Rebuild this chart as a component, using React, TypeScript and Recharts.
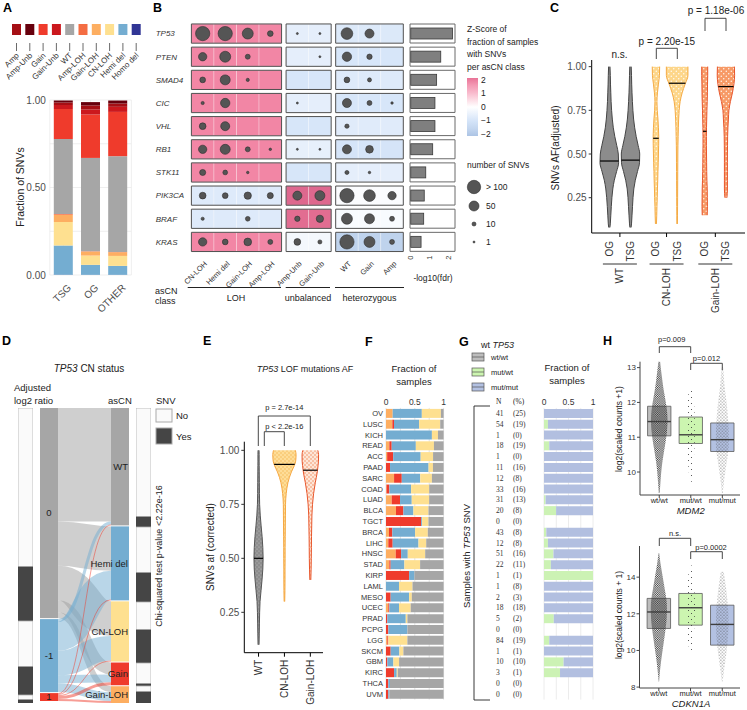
import React from "react";
import {
  Area,
  Bar,
  BarChart,
  CartesianGrid,
  ComposedChart,
  ReferenceArea,
  ReferenceLine,
  Sankey,
  Scatter,
  ScatterChart,
  XAxis,
  YAxis,
  ZAxis,
} from "recharts";

const W = 747;
const H = 710;
const SANS = '"Liberation Sans", Arial, Helvetica, sans-serif';
const SERIF = '"Liberation Serif", "DejaVu Serif", serif';

const CN = {
  amp: "#a50f15",
  ampUnb: "#67000d",
  gain: "#ef3b2c",
  gainUnb: "#cb181d",
  wt: "#a6a6a6",
  ampLoh: "#f46d43",
  gainLoh: "#fdae61",
  cnLoh: "#fee090",
  hemiDel: "#74add1",
  homoDel: "#313695",
};

// ---------- A: fraction of SNVs per gene class ----------
const aGroups = ["TSG", "OG", "OTHER"];
const aHomoDel = [0.002, 0.001, 0.001];
const aHemiDel = [0.166, 0.057, 0.051];
const aCnLoh = [0.135, 0.053, 0.057];
const aGainLoh = [0.042, 0.023, 0.021];
const aAmpLoh = [0.003, 0.002, 0.002];
const aWt = [0.429, 0.533, 0.547];
const aGain = [0.171, 0.248, 0.253];
const aGainUnb = [0.023, 0.029, 0.029];
const aAmp = [0.015, 0.023, 0.019];
const aAmpUnb = [0.011, 0.019, 0.017];
const aLegend = ["Amp", "Amp-Unb", "Gain", "Gain-Unb", "WT", "Amp-LOH", "Gain-LOH", "CN-LOH", "Hemi del", "Homo del"];
const aLegendCol = [CN.amp, CN.ampUnb, CN.gain, CN.gainUnb, CN.wt, CN.ampLoh, CN.gainLoh, CN.cnLoh, CN.hemiDel, CN.homoDel];

// ---------- B: genes x asCN class ----------
const bGenes = ["TP53", "PTEN", "SMAD4", "CIC", "VHL", "RB1", "STK11", "PIK3CA", "BRAF", "KRAS"];
const bClasses = ["CN-LOH", "Hemi del", "Gain-LOH", "Amp-LOH", "Amp-Unb", "Gain-Unb", "WT", "Gain", "Amp"];
const bSnvCounts = [
  [100, 100, 59, 16, 2, 2, 67, 40, 0],
  [34, 59, 12, 0, 0, 2, 43, 14, 0],
  [16, 49, 5, 0, 0, 0, 16, 8, 0],
  [5, 43, 0, 0, 2, 0, 40, 12, 3],
  [22, 40, 0, 0, 0, 0, 9, 0, 0],
  [34, 49, 12, 3, 2, 2, 40, 29, 0],
  [18, 11, 3, 0, 0, 0, 8, 3, 0],
  [22, 16, 26, 18, 40, 49, 100, 67, 34],
  [5, 0, 11, 0, 14, 26, 59, 49, 12],
  [34, 16, 29, 12, 22, 8, 100, 59, 12],
];
const zLoh = [1.8, 1.8, 1.8, 1.8, 1.8, 1.8, 1.8, -0.75, -0.75, 1.8];
const zUnb = [-0.6, -0.6, -0.9, -0.6, -0.9, -0.55, -0.9, 2.4, 2.3, -0.25];
const zHet = [-0.8, -0.9, -0.75, -0.9, -0.7, -0.95, -0.6, -0.1, -0.15, -1.6];
const bFdr = [2.23, 1.6, 1.38, 1.29, 1.29, 1.17, 0.8, 0.72, 0.69, 0.55];

// ---------- C: SNV AF violins ----------
const cLevels = [0.08, 0.1, 0.15, 0.2, 0.25, 0.3, 0.35, 0.4, 0.45, 0.5, 0.55, 0.6, 0.65, 0.7, 0.75, 0.8, 0.85, 0.9, 0.95, 1.0];
const cWtOg = [0.6, 1.0, 1.5, 2.0, 2.6, 3.5, 5.0, 7.3, 9.3, 9.0, 7.4, 5.5, 4.0, 3.0, 2.3, 1.8, 1.5, 1.2, 1.0, 0.7];
const cWtTsg = [0.6, 1.0, 1.5, 2.0, 2.5, 3.3, 4.8, 7.0, 9.0, 9.2, 7.6, 5.7, 4.2, 3.1, 2.4, 1.9, 1.5, 1.2, 1.0, 0.7];
const cCnOg = [null, 0.5, 0.8, 1.0, 1.3, 1.5, 1.8, 2.0, 2.3, 2.5, 2.7, 2.8, 2.5, 2.0, 1.3, 1.0, 1.5, 2.5, 3.5, 3.7];
const cCnTsg = [null, 0.3, 0.35, 0.4, 0.45, 0.5, 0.55, 0.6, 0.65, 0.7, 0.8, 1.0, 1.2, 1.5, 2.0, 3.0, 5.0, 8.0, 10.8, 10.8];
const cGlOg = [null, null, 2.5, 2.7, 2.6, 2.5, 2.2, 2.0, 1.9, 1.8, 1.7, 1.7, 1.8, 2.0, 2.2, 2.5, 2.7, 2.8, 3.0, 3.0];
const cGlTsg = [null, null, null, null, 1.0, 1.5, 1.5, 1.5, 1.5, 1.5, 1.6, 1.7, 2.0, 2.5, 3.0, 4.5, 6.5, 8.0, 8.7, 8.5];
const cMedians = [0.46, 0.465, 0.59, 0.905, 0.63, 0.886];
const cLabels = ["OG", "TSG", "OG", "TSG", "OG", "TSG"];
const cGroupNames = ["WT", "CN-LOH", "Gain-LOH"];

// ---------- D: TP53 CN status alluvial ----------
const dNodes = ["0", "-1", "1", "WT", "Hemi del", "CN-LOH", "Gain", "Gain-LOH"];
const dFrom0 = [115, 45, 35, 12, 6];
const dFromMinus1 = [3, 29, 25, 8, 9];
const dFrom1 = [1, 1, 1, 3, 2];
const dSnvLeft = [159, 54, 46, 28, 5, 3];
const dSnvRight = [109, 10, 46, 29, 28, 33, 21, 2, 6, 11];

// ---------- E: TP53 LOF AF ----------
const eLevels = [0.1, 0.15, 0.2, 0.25, 0.3, 0.35, 0.4, 0.45, 0.5, 0.55, 0.6, 0.65, 0.7, 0.75, 0.8, 0.85, 0.9, 0.93, 0.95, 0.98, 1.0];
const eWt = [0.5, 0.7, 0.9, 1.1, 1.5, 2.5, 3.5, 4.3, 4.6, 4.3, 3.6, 2.6, 1.7, 1.1, 0.9, 0.8, 0.7, 0.65, 0.6, 0.6, 0.5];
const eCn = [null, null, null, null, 0.3, 0.5, 0.6, 0.6, 0.7, 0.7, 0.8, 0.9, 1.0, 1.1, 1.8, 3.5, 7.0, 10.0, 11.3, 11.7, 11.0];
const eGl = [null, null, null, null, null, null, 0.5, 0.8, 1.0, 1.1, 1.2, 1.4, 1.6, 2.2, 3.3, 5.0, 7.0, 7.8, 8.2, 8.3, 7.5];
const eMedians = [0.5, 0.935, 0.908];
const eLabels = ["WT", "CN-LOH", "Gain-LOH"];

// ---------- F / G: per cancer type ----------
const fTypes = ["OV", "LUSC", "KICH", "READ", "ACC", "PAAD", "SARC", "COAD", "LUAD", "BLCA", "TGCT", "BRCA", "LIHC", "HNSC", "STAD", "KIRP", "LAML", "MESO", "UCEC", "PRAD", "PCPG", "LGG", "SKCM", "GBM", "KIRC", "THCA", "UVM"];
const fGainLoh = [0.116, 0.11, 0, 0.058, 0.02, 0, 0.14, 0.01, 0.099, 0.174, 0, 0.052, 0.04, 0.169, 0.058, 0, 0, 0, 0.04, 0, 0, 0.023, 0, 0, 0, 0, 0];
const fGain = [0, 0.029, 0, 0.041, 0.105, 0.07, 0.134, 0.048, 0.145, 0.128, 0.61, 0.058, 0.076, 0.093, 0.023, 0.401, 0, 0.081, 0.017, 0.023, 0.04, 0.017, 0.081, 0.023, 0.14, 0.04, 0.04];
const fHemiDel = [0.506, 0.436, 0.797, 0.419, 0.477, 0.669, 0.32, 0.378, 0.203, 0.174, 0.017, 0.395, 0.448, 0.116, 0.238, 0.093, 0.227, 0.32, 0.169, 0.32, 0.331, 0, 0.151, 0.105, 0.047, 0.029, 0.017];
const fCnLoh = [0.331, 0.366, 0.105, 0.314, 0.215, 0.076, 0.203, 0.314, 0.302, 0.262, 0.11, 0.221, 0.134, 0.302, 0.273, 0, 0.233, 0.047, 0.203, 0.029, 0, 0.331, 0.07, 0.099, 0.017, 0, 0];
const fWt = [0.047, 0.059, 0.098, 0.168, 0.183, 0.185, 0.203, 0.25, 0.251, 0.262, 0.263, 0.274, 0.302, 0.32, 0.408, 0.506, 0.54, 0.552, 0.571, 0.628, 0.629, 0.629, 0.698, 0.773, 0.796, 0.931, 0.943];
const gN = [41, 54, 1, 18, 1, 11, 12, 33, 31, 20, 0, 43, 12, 51, 22, 1, 1, 2, 18, 5, 0, 84, 1, 10, 3, 0, 0];
const gPct = [25, 19, 0, 19, 0, 16, 8, 16, 13, 8, 0, 8, 8, 16, 11, 1, 8, 3, 18, 2, 0, 19, 1, 10, 1, 0, 0];
const gMutWt = [0, 0.08, 0, 0.107, 0, 0, 0, 0, 0.033, 0.247, null, 0.047, 0.08, 0.193, 0.14, 1, 0, 0, 0, 0.2, null, 0.107, 0, 0.4, 0.327, null, null];
const gMutMut = [1, 0.92, 1, 0.893, 1, 1, 1, 1, 0.967, 0.753, null, 0.953, 0.92, 0.807, 0.86, 0, 1, 1, 1, 0.8, null, 0.893, 1, 0.6, 0.673, null, null];

// ---------- H: expression boxplots ----------
const hGroups = ["wt/wt", "mut/wt", "mut/mut"];
const hCol = ["#bdbdbd", "#ccf5b0", "#b3c1e2"];
const mdmLevels = [9.4, 9.7, 10.0, 10.3, 10.6, 10.9, 11.2, 11.5, 11.8, 12.1, 12.4, 12.7, 13.0, 13.3];
const mdmWtWt = [0.5, 1.2, 2.0, 3.2, 4.8, 6.5, 7.8, 8.3, 7.6, 6.0, 4.2, 2.8, 1.5, 0.5];
const mdmMutWt = [null, 0.8, 2.0, 2.8, 3.5, 4.0, 4.0, 4.0, 3.6, 3.0, 1.5, null, null, null];
const mdmMutMut = [0.5, 1.5, 3.0, 4.5, 6.0, 6.5, 6.3, 5.8, 5.0, 3.8, 2.5, 1.6, 0.8, null];
const mdmQ1 = [11.04, 10.82, 10.59];
const mdmMed = [11.45, 11.07, 10.93];
const mdmQ3 = [11.89, 11.58, 11.41];
const cdkLevels = [8.3, 8.8, 9.3, 9.8, 10.3, 10.8, 11.3, 11.8, 12.3, 12.8, 13.3, 13.8, 14.3, 14.8, 15.3];
const cdkWtWt = [0.3, 1.0, 2.0, 3.2, 4.5, 5.8, 7.0, 7.8, 8.0, 7.5, 6.0, 4.5, 3.0, 1.5, 0.4];
const cdkMutWt = [null, null, null, 0.8, 2.0, 3.0, 3.8, 4.2, 4.5, 4.3, 3.8, 2.8, 1.8, 0.5, null];
const cdkMutMut = [0.5, 1.5, 2.8, 4.0, 5.0, 5.8, 6.2, 6.2, 5.8, 5.0, 4.0, 2.8, 1.5, null, null];
const cdkQ1 = [11.2, 11.38, 10.29];
const cdkMed = [12.1, 12.33, 11.42];
const cdkQ3 = [12.84, 13.11, 12.47];

// ---------- helpers ----------
type Plot = { x0: number; x1: number; y0: number; y1: number };
const layer: React.CSSProperties = { position: "absolute", left: 0, top: 0 };
const marginOf = (p: Plot, yw: number, xh: number, top = false) => ({
  left: p.x0 - yw,
  right: W - p.x1,
  top: top ? p.y0 - xh : p.y0,
  bottom: top ? H - p.y1 : H - p.y1 - xh,
});

type Vio = { key: string; pos: number; dens: (number | null)[] };
// rows for range areas; a missing level becomes [NaN, null] so both edges break cleanly
const violinRows = (levels: number[], items: Vio[], pxPerUnit: number) =>
  levels.map((v, i) => {
    const r: any = { v };
    items.forEach((it) => {
      const w = it.dens[i];
      r[it.key] = w == null ? [NaN, null] : [it.pos - w / pxPerUnit, it.pos + w / pxPerUnit];
    });
    return r;
  });
const widthAt = (levels: number[], dens: (number | null)[], v: number) => {
  for (let i = 0; i < levels.length - 1; i++) {
    if (v >= levels[i] && v <= levels[i + 1]) {
      const a = dens[i] ?? 0;
      const b = dens[i + 1] ?? 0;
      return a + ((b - a) * (v - levels[i])) / (levels[i + 1] - levels[i]);
    }
  }
  return 0;
};

const hex = (h: string) => [1, 3, 5].map((i) => parseInt(h.slice(i, i + 2), 16));
const mix = (a: string, b: string, t: number) => {
  const x = hex(a);
  const y = hex(b);
  return `rgb(${x.map((c, i) => Math.round(c + (y[i] - c) * t)).join(",")})`;
};
const zStops: [number, string][] = [
  [-2.5, "#9fb9de"],
  [-2, "#b2c8e6"],
  [-1, "#d3e3f8"],
  [0, "#ffffff"],
  [1, "#f8b8cb"],
  [2, "#f07a9c"],
  [2.5, "#d9648a"],
];
const zColor = (z: number) => {
  for (let i = 0; i < zStops.length - 1; i++) {
    const [z0, c0] = zStops[i];
    const [z1, c1] = zStops[i + 1];
    if (z >= z0 && z <= z1) return mix(c0, c1, (z - z0) / (z1 - z0));
  }
  return z < 0 ? zStops[0][1] : zStops[zStops.length - 1][1];
};

const rotText = (x: number, y: number, s: string, fs: number, angle = -90, anchor = "end", fill = "#333") => (
  <text x={x} y={y} transform={`rotate(${angle} ${x} ${y})`} textAnchor={anchor} dy="0.35em" fontSize={fs} fill={fill}>
    {s}
  </text>
);

function Patterns() {
  const dots = (id: string, bg: string | null, dot: string, step: number, r: number) => (
    <pattern id={id} key={id} width={step} height={step} patternUnits="userSpaceOnUse">
      {bg && <rect width={step} height={step} fill={bg} />}
      <circle cx={step * 0.25} cy={step * 0.25} r={r} fill={dot} />
      <circle cx={step * 0.75} cy={step * 0.75} r={r} fill={dot} />
    </pattern>
  );
  return (
    <svg width={0} height={0} style={{ position: "absolute" }}>
      <defs>
        {dots("cCn", "#fdd68a", "#ffffff", 5, 0.7)}
        {dots("cGl", "#f79a66", "#ffffff", 5, 0.7)}
        {dots("eWt", "#8d8d8d", "#c4c4c4", 4, 0.6)}
        {dots("eCn", "#fedd98", "#f5b54d", 4, 0.7)}
        {dots("eGl", "#fde6d8", "#f07c48", 4, 0.7)}
        {dots("hDense", null, "#333333", 1.8, 0.55)}
        {dots("hMid", null, "#3a3a3a", 3.2, 0.5)}
        {dots("hSparse", null, "#3a3a3a", 6, 0.55)}
        <linearGradient id="zBar" x1="0" y1="0" x2="0" y2="1">
          {[2.15, 1.5, 1, 0.5, 0, -0.5, -1, -1.5, -2.15].map((z, i) => (
            <stop key={i} offset={`${(i / 8) * 100}%`} stopColor={zColor(z)} />
          ))}
        </linearGradient>
      </defs>
    </svg>
  );
}

// ---------- panels ----------
const pA: Plot = { x0: 49.8, x1: 131.4, y0: 100, y1: 275 };
function PanelA() {
  const stack = [
    { key: "homoDel", v: aHomoDel, c: CN.homoDel },
    { key: "hemiDel", v: aHemiDel, c: CN.hemiDel },
    { key: "cnLoh", v: aCnLoh, c: CN.cnLoh },
    { key: "gainLoh", v: aGainLoh, c: CN.gainLoh },
    { key: "ampLoh", v: aAmpLoh, c: CN.ampLoh },
    { key: "wt", v: aWt, c: CN.wt },
    { key: "gain", v: aGain, c: CN.gain },
    { key: "gainUnb", v: aGainUnb, c: CN.gainUnb },
    { key: "amp", v: aAmp, c: CN.amp },
    { key: "ampUnb", v: aAmpUnb, c: CN.ampUnb },
  ];
  const data = aGroups.map((g, i) => {
    const row: any = { g };
    stack.forEach((s) => (row[s.key] = s.v[i]));
    return row;
  });
  return (
    <div style={layer}>
      <BarChart width={W} height={H} data={data} margin={marginOf(pA, 34, 30)} barSize={19}>
        <CartesianGrid stroke="#ebebeb" strokeWidth={0.8} />
        <XAxis
          dataKey="g"
          height={30}
          axisLine={false}
          tickLine={false}
          tickSize={0}
          tickMargin={0}
          interval={0}
          tick={(p: any) => rotText(p.x + 6, p.y + 11, p.payload.value, 10, -45, "end", "#4d4d4d")}
        />
        <YAxis
          width={34}
          domain={[0, 1]}
          ticks={[0, 0.25, 0.5, 0.75, 1]}
          tickFormatter={(v: number) => (v === 0.25 || v === 0.75 ? "" : v.toFixed(2))}
          axisLine={false}
          tickLine={false}
          tickSize={0}
          tickMargin={4}
          tick={{ fontSize: 10, fill: "#4d4d4d" }}
        />
        {stack.map((s) => (
          <Bar key={s.key} dataKey={s.key} stackId="a" fill={s.c} isAnimationActive={false} />
        ))}
      </BarChart>
    </div>
  );
}

const colPos = [0, 1, 2, 3, 4.2, 5.2, 6.4, 7.4, 8.4];
const bBlocks = [
  { cols: [0, 1, 2, 3], z: zLoh },
  { cols: [4, 5], z: zUnb },
  { cols: [6, 7, 8], z: zHet },
];
const pB: Plot = { x0: 191.4, x1: 403.3, y0: 22, y1: 253.5 };
const pBb: Plot = { x0: 410, x1: 455, y0: 22, y1: 253.5 };
function PanelB() {
  const pts: any[] = [];
  bSnvCounts.forEach((row, i) =>
    row.forEach((n, j) => {
      if (n > 0) pts.push({ x: colPos[j], y: i, n });
    })
  );
  const hh = 0.415;
  return (
    <>
      <div style={layer}>
        <ScatterChart width={W} height={H} margin={marginOf(pB, 36, 40)}>
          <XAxis
            type="number"
            dataKey="x"
            domain={[-0.5, 8.9]}
            allowDataOverflow
            ticks={colPos}
            interval={0}
            height={40}
            axisLine={false}
            tickLine={false}
            tickSize={0}
            tickMargin={0}
            tick={(p: any) => rotText(p.x + 3, p.y + 9, bClasses[colPos.indexOf(p.payload.value)], 7.5, -45)}
          />
          <YAxis
            type="number"
            dataKey="y"
            domain={[-0.5, 9.5]}
            reversed
            allowDataOverflow
            ticks={bGenes.map((_, i) => i)}
            interval={0}
            width={36}
            axisLine={false}
            tickLine={false}
            tick={(p: any) => (
              <text x={155.7} y={p.y} dy="0.35em" fontSize={8} fontStyle="italic" fill="#333">
                {bGenes[p.payload.value]}
              </text>
            )}
          />
          <ZAxis type="number" dataKey="n" domain={[1, 100]} range={[1.6, 160]} />
          {bGenes.flatMap((_, i) =>
            bBlocks.flatMap((b) =>
              b.cols.map((c) => (
                <ReferenceArea
                  key={`t${i}-${c}`}
                  x1={colPos[c] - 0.5}
                  x2={colPos[c] + 0.5}
                  y1={i - hh}
                  y2={i + hh}
                  fill={zColor(b.z[i])}
                  fillOpacity={1}
                  stroke="#ffffff"
                  strokeOpacity={0.35}
                  strokeWidth={0.8}
                  ifOverflow="visible"
                />
              ))
            )
          )}
          {bGenes.flatMap((_, i) =>
            bBlocks.map((b, k) => (
              <ReferenceArea
                key={`o${i}-${k}`}
                x1={colPos[b.cols[0]] - 0.5}
                x2={colPos[b.cols[b.cols.length - 1]] + 0.5}
                y1={i - hh}
                y2={i + hh}
                fill="none"
                stroke="#505050"
                strokeWidth={1}
                ifOverflow="visible"
              />
            ))
          )}
          <Scatter data={pts} fill="#555555" stroke="#2d2d2d" strokeWidth={0.6} isAnimationActive={false} />
        </ScatterChart>
      </div>
      <div style={layer}>
        <BarChart layout="vertical" width={W} height={H} data={bGenes.map((g, i) => ({ g, v: bFdr[i] }))} margin={marginOf(pBb, 0, 30)}>
          <XAxis
            type="number"
            domain={[-0.04, 2.36]}
            allowDataOverflow
            ticks={[0, 1, 2]}
            height={30}
            axisLine={false}
            tickLine={false}
            tickSize={0}
            tickMargin={0}
            tick={(p: any) => rotText(p.x, p.y + 2, String(p.payload.value), 7.5)}
          />
          <YAxis type="category" dataKey="g" hide />
          <Bar
            dataKey="v"
            barSize={19}
            background={{ fill: "#ffffff", stroke: "#6b6b6b", strokeWidth: 1 }}
            shape={(p: any) => <rect x={p.x} y={p.y + 4} width={p.width} height={p.height - 8} fill="#7f7f7f" stroke="#3a3a3a" strokeWidth={0.8} />}
            isAnimationActive={false}
          />
        </BarChart>
      </div>
    </>
  );
}

const cPos = [1, 2, 3.2, 4.2, 5.5, 6.5];
const cCenters = [1.5, 3.7, 6.0];
const pC: Plot = { x0: 591.7, x1: 745, y0: 60, y1: 233 };
function PanelC() {
  const items: Vio[] = [
    { key: "wtOg", pos: cPos[0], dens: cWtOg },
    { key: "wtTsg", pos: cPos[1], dens: cWtTsg },
    { key: "cnOg", pos: cPos[2], dens: cCnOg },
    { key: "cnTsg", pos: cPos[3], dens: cCnTsg },
    { key: "glOg", pos: cPos[4], dens: cGlOg },
    { key: "glTsg", pos: cPos[5], dens: cGlTsg },
  ];
  const fills = ["#8c8c8c", "#8c8c8c", "url(#cCn)", "url(#cCn)", "url(#cGl)", "url(#cGl)"];
  const strokes = ["#454545", "#454545", "#f5ab45", "#f5ab45", "#e8552b", "#e8552b"];
  const px = 21.2;
  const rows = violinRows(cLevels, items, px);
  return (
    <div style={layer}>
      <ComposedChart layout="vertical" width={W} height={H} data={rows} margin={marginOf(pC, 40, 60)}>
        <XAxis
          type="number"
          domain={[0.17, 7.4]}
          allowDataOverflow
          ticks={[...cPos, ...cCenters]}
          interval={0}
          height={60}
          axisLine={{ stroke: "#000" }}
          tickLine={false}
          tickSize={0}
          tickMargin={0}
          tick={(p: any) => {
            const v = p.payload.value;
            const gi = cCenters.indexOf(v);
            if (gi >= 0)
              return (
                <g>
                  <line x1={p.x} x2={p.x} y1={p.y} y2={p.y + 4} stroke="#000" />
                  <line x1={p.x - 17} x2={p.x + 17} y1={p.y + 31} y2={p.y + 31} stroke="#000" strokeWidth={0.8} />
                  {rotText(p.x, p.y + 35, cGroupNames[gi], 10)}
                </g>
              );
            return rotText(p.x, p.y + 8, cLabels[cPos.indexOf(v)], 10);
          }}
        />
        <YAxis
          type="number"
          dataKey="v"
          reversed
          domain={[0.048, 1.038]}
          allowDataOverflow
          ticks={[0.25, 0.5, 0.75, 1]}
          tickFormatter={(v: number) => v.toFixed(2)}
          width={40}
          tickSize={3}
          tickMargin={2}
          axisLine={{ stroke: "#000" }}
          tickLine={{ stroke: "#333" }}
          tick={{ fontSize: 10, fill: "#4d4d4d" }}
        />
        {items.map((it, i) => (
          <Area
            key={it.key}
            dataKey={it.key}
            type="monotone"
            fill={fills[i]}
            fillOpacity={1}
            stroke={strokes[i]}
            strokeWidth={1}
            dot={false}
            activeDot={false}
            isAnimationActive={false}
          />
        ))}
        {items.map((it, i) => {
          const w = widthAt(cLevels, it.dens, cMedians[i]) / px;
          return (
            <ReferenceLine
              key={`m${i}`}
              segment={[
                { x: it.pos - w, y: cMedians[i] },
                { x: it.pos + w, y: cMedians[i] },
              ]}
              stroke="#000"
              strokeWidth={1.2}
            />
          );
        })}
      </ComposedChart>
    </div>
  );
}

const dNodeColor: Record<string, string> = {
  "0": CN.wt,
  "-1": CN.hemiDel,
  "1": CN.gain,
  WT: CN.wt,
  "Hemi del": CN.hemiDel,
  "CN-LOH": CN.cnLoh,
  Gain: CN.gain,
  "Gain-LOH": CN.gainLoh,
};
const dLinkColor: Record<string, string> = { "0": "#a0a0a0", "-1": "#74add1", "1": "#ef3b2c" };
function DNode(p: any) {
  const name = p.payload.name;
  const left = p.index < 3;
  return (
    <g>
      <rect x={p.x} y={p.y} width={p.width} height={p.height} fill={dNodeColor[name]} />
      <text
        x={left ? p.x + p.width / 2 : p.x + p.width - 1}
        y={p.y + p.height / 2}
        dy="0.35em"
        textAnchor={left ? "middle" : "end"}
        fontSize={9.5}
        fill="#222"
      >
        {name}
      </text>
    </g>
  );
}
function DLink(p: any) {
  const c = dLinkColor[p.payload.source.name];
  return (
    <path
      d={`M${p.sourceX},${p.sourceY}C${p.sourceControlX},${p.sourceY} ${p.targetControlX},${p.targetY} ${p.targetX},${p.targetY}`}
      fill="none"
      stroke={c}
      strokeWidth={p.linkWidth}
      strokeOpacity={0.5}
    />
  );
}
function SnvBar({ left, values }: { left: number; values: number[] }) {
  const row: any = { c: "x" };
  values.forEach((v, i) => (row["s" + i] = v));
  const total = values.reduce((a, b) => a + b, 0);
  return (
    <div style={{ position: "absolute", left, top: 408 }}>
      <BarChart width={15} height={295} data={[row]} margin={{ top: 0, right: 0, bottom: 0, left: 0 }} barCategoryGap={0}>
        <XAxis dataKey="c" hide />
        <YAxis hide reversed domain={[0, total]} />
        {values.map((_, i) => (
          <Bar
            key={i}
            dataKey={"s" + i}
            stackId="s"
            fill={i % 2 ? "#454545" : "#fafafa"}
            stroke={i % 2 ? "#454545" : "#b0b0b0"}
            strokeWidth={0.8}
            isAnimationActive={false}
          />
        ))}
      </BarChart>
    </div>
  );
}
function PanelD() {
  const links: any[] = [];
  [dFrom0, dFromMinus1, dFrom1].forEach((arr, s) => arr.forEach((v, t) => links.push({ source: s, target: 3 + t, value: v })));
  return (
    <>
      <SnvBar left={18} values={dSnvLeft} />
      <div style={{ position: "absolute", left: 40, top: 408 }}>
        <Sankey
          width={89}
          height={295}
          data={{ nodes: dNodes.map((name) => ({ name })), links }}
          nodeWidth={18}
          nodePadding={1}
          iterations={0}
          linkCurvature={0.5}
          margin={{ top: 0, right: 0, bottom: 0, left: 0 }}
          node={DNode}
          link={DLink}
        />
      </div>
      <SnvBar left={136} values={dSnvRight} />
    </>
  );
}

const ePos = [1, 2, 3];
const pE: Plot = { x0: 244.3, x1: 323, y0: 441.7, y1: 652.7 };
function PanelE() {
  const items: Vio[] = [
    { key: "wt", pos: 1, dens: eWt },
    { key: "cn", pos: 2, dens: eCn },
    { key: "gl", pos: 3, dens: eGl },
  ];
  const fills = ["url(#eWt)", "url(#eCn)", "url(#eGl)"];
  const strokes = ["#555555", "#f5a742", "#e8552b"];
  const px = 26;
  const rows = violinRows(eLevels, items, px);
  return (
    <div style={layer}>
      <ComposedChart layout="vertical" width={W} height={H} data={rows} margin={marginOf(pE, 40, 50)}>
        <XAxis
          type="number"
          domain={[0.45, 3.49]}
          allowDataOverflow
          ticks={ePos}
          interval={0}
          height={50}
          axisLine={{ stroke: "#000" }}
          tickLine={false}
          tickSize={0}
          tickMargin={0}
          tick={(p: any) => (
            <g>
              <line x1={p.x} x2={p.x} y1={p.y} y2={p.y + 4} stroke="#000" />
              {rotText(p.x, p.y + 7, eLabels[ePos.indexOf(p.payload.value)], 10)}
            </g>
          )}
        />
        <YAxis
          type="number"
          dataKey="v"
          reversed
          domain={[0.063, 1.04]}
          allowDataOverflow
          ticks={[0.25, 0.5, 0.75, 1]}
          tickFormatter={(v: number) => v.toFixed(2)}
          width={40}
          tickSize={3}
          tickMargin={2}
          axisLine={{ stroke: "#000" }}
          tickLine={{ stroke: "#333" }}
          tick={{ fontSize: 10, fill: "#4d4d4d" }}
        />
        {items.map((it, i) => (
          <Area
            key={it.key}
            dataKey={it.key}
            type="monotone"
            fill={fills[i]}
            fillOpacity={1}
            stroke={strokes[i]}
            strokeWidth={1}
            dot={false}
            activeDot={false}
            isAnimationActive={false}
          />
        ))}
        {items.map((it, i) => {
          const w = widthAt(eLevels, it.dens, eMedians[i]) / px;
          return (
            <ReferenceLine
              key={`m${i}`}
              segment={[
                { x: it.pos - w, y: eMedians[i] },
                { x: it.pos + w, y: eMedians[i] },
              ]}
              stroke="#000"
              strokeWidth={1.2}
            />
          );
        })}
      </ComposedChart>
    </div>
  );
}

const pF: Plot = { x0: 386, x1: 443.6, y0: 407.9, y1: 699.6 };
const pG: Plot = { x0: 544, x1: 593, y0: 407.9, y1: 699.6 };
function PanelF() {
  const rows = fTypes.map((t, i) => ({ t, gl: fGainLoh[i], g: fGain[i], hd: fHemiDel[i], cn: fCnLoh[i], wt: fWt[i] }));
  const segs = [
    { k: "gl", c: CN.gainLoh },
    { k: "g", c: CN.gain },
    { k: "hd", c: CN.hemiDel },
    { k: "cn", c: CN.cnLoh },
    { k: "wt", c: CN.wt },
  ];
  return (
    <div style={layer}>
      <BarChart layout="vertical" width={W} height={H} data={rows} margin={marginOf(pF, 40, 12, true)} barSize={9}>
        <CartesianGrid horizontal={false} stroke="#e4e4e4" />
        <XAxis
          type="number"
          orientation="top"
          domain={[0, 1]}
          ticks={[0, 0.25, 0.5, 0.75, 1]}
          tickFormatter={(v: number) => (v === 0.25 || v === 0.75 ? "" : String(v))}
          height={12}
          axisLine={false}
          tickLine={false}
          tickSize={0}
          tickMargin={3}
          interval={0}
          tick={{ fontSize: 8.5, fill: "#333" }}
        />
        <YAxis type="category" dataKey="t" width={40} axisLine={false} tickLine={false} tickSize={0} tickMargin={3} interval={0} tick={{ fontSize: 7.5, fill: "#333" }} />
        {segs.map((s) => (
          <Bar key={s.k} dataKey={s.k} stackId="f" fill={s.c} isAnimationActive={false} />
        ))}
      </BarChart>
    </div>
  );
}
function PanelG() {
  const rows = fTypes.map((t, i) => ({ t, mw: gMutWt[i], mm: gMutMut[i] }));
  return (
    <div style={layer}>
      <BarChart layout="vertical" width={W} height={H} data={rows} margin={marginOf(pG, 60, 12, true)} barSize={9}>
        <CartesianGrid horizontal={false} stroke="#ececec" />
        <XAxis
          type="number"
          orientation="top"
          domain={[0, 1]}
          ticks={[0, 0.25, 0.5, 0.75, 1]}
          tickFormatter={(v: number) => (v === 0.25 || v === 0.75 ? "" : String(v))}
          height={12}
          axisLine={false}
          tickLine={false}
          tickSize={0}
          tickMargin={3}
          interval={0}
          tick={{ fontSize: 8.5, fill: "#333" }}
        />
        <YAxis
          type="category"
          dataKey="t"
          width={60}
          axisLine={false}
          tickLine={false}
          interval={0}
          tick={(p: any) => {
            const i = fTypes.indexOf(p.payload.value);
            return (
              <g fontFamily={SERIF} fontSize={7.5} fill="#333">
                <text x={496} y={p.y} dy="0.35em">{gN[i]}</text>
                <text x={513} y={p.y} dy="0.35em">({gPct[i]})</text>
              </g>
            );
          }}
        />
        <Bar dataKey="mw" stackId="g" fill="#ccf2b4" isAnimationActive={false} />
        <Bar dataKey="mm" stackId="g" fill="#b2bfe0" isAnimationActive={false} />
      </BarChart>
    </div>
  );
}

type BoxSpec = {
  plot: Plot;
  yDomain: [number, number];
  yTicks: number[];
  levels: number[];
  clouds: (number | null)[][];
  q1: number[];
  med: number[];
  q3: number[];
};
function BoxPanel(s: BoxSpec) {
  const items: Vio[] = s.clouds.map((d, i) => ({ key: "c" + i, pos: i + 1, dens: d }));
  const rows = violinRows(s.levels, items, 31.5);
  const pats = ["url(#hDense)", "url(#hSparse)", "url(#hMid)"];
  const hw = 0.37;
  return (
    <div style={layer}>
      <ComposedChart layout="vertical" width={W} height={H} data={rows} margin={marginOf(s.plot, 30, 14)}>
        <XAxis
          type="number"
          domain={[0.39, 3.56]}
          allowDataOverflow
          ticks={[1, 2, 3]}
          tickFormatter={(v: number) => hGroups[v - 1]}
          interval={0}
          height={14}
          axisLine={{ stroke: "#444" }}
          tickLine={{ stroke: "#444" }}
          tickSize={3}
          tickMargin={0}
          tick={{ fontSize: 7.5, fill: "#222" }}
        />
        <YAxis
          type="number"
          dataKey="v"
          reversed
          domain={s.yDomain}
          allowDataOverflow
          ticks={s.yTicks}
          width={30}
          axisLine={{ stroke: "#444" }}
          tickLine={{ stroke: "#444" }}
          tickSize={3}
          tickMargin={1}
          tick={{ fontSize: 8, fill: "#333" }}
        />
        {hGroups.map((_, i) => (
          <ReferenceArea
            key={`b${i}`}
            x1={i + 1 - hw}
            x2={i + 1 + hw}
            y1={s.q1[i]}
            y2={s.q3[i]}
            fill={hCol[i]}
            fillOpacity={1}
            stroke="#5a5a5a"
            strokeWidth={0.8}
          />
        ))}
        {items.map((it, i) => (
          <Area
            key={it.key}
            dataKey={it.key}
            type="monotone"
            fill={pats[i]}
            fillOpacity={1}
            stroke="none"
            dot={false}
            activeDot={false}
            isAnimationActive={false}
          />
        ))}
        {hGroups.map((_, i) => (
          <ReferenceLine
            key={`m${i}`}
            segment={[
              { x: i + 1 - hw, y: s.med[i] },
              { x: i + 1 + hw, y: s.med[i] },
            ]}
            stroke="#3f3f3f"
            strokeWidth={1.4}
          />
        ))}
      </ComposedChart>
    </div>
  );
}

function Bracket({ x1, x2, top, bottom }: { x1: number; x2: number; top: number; bottom: number }) {
  return <path d={`M${x1},${bottom}V${top}H${x2}V${bottom}`} fill="none" stroke="#333" strokeWidth={0.9} />;
}

function Overlay() {
  const letters: [string, number, number][] = [
    ["A", 3, 12],
    ["B", 153, 12],
    ["C", 550, 12],
    ["D", 2, 345],
    ["E", 203, 345],
    ["F", 365, 346],
    ["G", 459, 346],
    ["H", 603, 345],
  ];
  const sizeLegend: [string, number, number][] = [
    ["> 100", 187, 6.7],
    ["50", 206, 5],
    ["10", 224, 2],
    ["1", 242, 1],
  ];
  return (
    <svg width={W} height={H} style={{ ...layer, pointerEvents: "none" }} fontFamily={SANS}>
      {letters.map(([l, x, y]) => (
        <text key={l} x={x} y={y} fontSize={12.5} fontWeight="bold" fill="#000">
          {l}
        </text>
      ))}
      {/* A legend */}
      {aLegend.map((name, i) => {
        const x = 12 + 13.3 * i;
        return (
          <g key={name}>
            <rect x={x} y={24} width={9} height={11} fill={aLegendCol[i]} />
            <line x1={x + 4.5} x2={x + 4.5} y1={43} y2={51} stroke="#444" strokeWidth={0.8} />
            <text x={x + 7.5} y={56} transform={`rotate(-45 ${x + 7.5} 56)`} textAnchor="end" fontSize={8} fill="#333">
              {name}
            </text>
          </g>
        );
      })}
      {rotText(20, 187, "Fraction of SNVs", 10.5, -90, "middle", "#222")}

      {/* B annotations */}
      <text x={155} y={294} fontSize={9} fill="#222">asCN</text>
      <text x={155} y={304} fontSize={9} fill="#222">class</text>
      <line x1={187.7} x2={281} y1={287.5} y2={287.5} stroke="#222" />
      <line x1={285.7} x2={330} y1={287.5} y2={287.5} stroke="#222" />
      <line x1={335} x2={404} y1={287.5} y2={287.5} stroke="#222" />
      <text x={236} y={301} textAnchor="middle" fontSize={9} fill="#222">LOH</text>
      <text x={308} y={301} textAnchor="middle" fontSize={9} fill="#222">unbalanced</text>
      <text x={369.5} y={301} textAnchor="middle" fontSize={9} fill="#222">heterozygous</text>
      <text x={433} y={281} textAnchor="middle" fontSize={8.5} fill="#222">-log10(fdr)</text>
      {["Z-Score of", "fraction of samples", "with SNVs", "per asCN class"].map((s, i) => (
        <text key={s} x={467} y={32 + 12.6 * i} fontSize={8.5} fill="#222">
          {s}
        </text>
      ))}
      <rect x={467} y={78} width={11} height={58} fill="url(#zBar)" />
      {["2", "1", "0", "\u22121", "\u22122"].map((s, i) => (
        <text key={s} x={481} y={80 + 13.5 * i} dy="0.35em" fontSize={8.5} fill="#222">
          {s}
        </text>
      ))}
      <text x={467} y={168} fontSize={8.5} fill="#222">number of SNVs</text>
      {sizeLegend.map(([s, y, r]) => (
        <g key={s}>
          <circle cx={474} cy={y} r={r} fill="#555" stroke="#2d2d2d" strokeWidth={0.6} />
          <text x={486} y={y} dy="0.35em" fontSize={8.5} fill="#222">
            {s}
          </text>
        </g>
      ))}

      {/* C annotations */}
      {rotText(555, 148, "SNVs AF(adjusted)", 10, -90, "middle", "#222")}
      <text x={619.5} y={58} textAnchor="middle" fontSize={10} fill="#222">n.s.</text>
      <text x={666.8} y={45} textAnchor="middle" fontSize={10} fill="#222">p = 2.20e-15</text>
      <Bracket x1={656.3} x2={677.3} top={48.3} bottom={59} />
      <text x={716} y={14} textAnchor="middle" fontSize={10} fill="#222">p = 1.18e-06</text>
      <Bracket x1={705} x2={726} top={18.3} bottom={31} />

      {/* D annotations */}
      <text x={89} y={372} textAnchor="middle" fontSize={10} fill="#222">
        <tspan fontStyle="italic">TP53</tspan> CN status
      </text>
      <text x={14} y={391} fontSize={9.5} fill="#222">Adjusted</text>
      <text x={14} y={404} fontSize={9.5} fill="#222">log2 ratio</text>
      <text x={108} y={404} fontSize={9.5} fill="#222">asCN</text>
      <text x={156} y={404} fontSize={9.5} fill="#222">SNV</text>
      <rect x={156} y={409} width={16} height={13} fill="#fafafa" stroke="#aaa" />
      <text x={176} y={419} fontSize={9.5} fill="#222">No</text>
      <rect x={156} y={428} width={16} height={16} fill="#454545" stroke="#aaa" />
      <text x={176} y={440} fontSize={9.5} fill="#222">Yes</text>
      {rotText(159, 556, "Chi-squared test p-value <2.22e-16", 9, -90, "middle", "#222")}

      {/* E annotations */}
      <text x={305} y={372} textAnchor="middle" fontSize={9} fill="#222">
        <tspan fontStyle="italic">TP53</tspan> LOF mutations AF
      </text>
      {rotText(210, 547, "SNVs af (corrected)", 10, -90, "middle", "#222")}
      <text x={284.3} y={410} textAnchor="middle" fontSize={7.5} fill="#222">p = 2.7e-14</text>
      <Bracket x1={258.3} x2={310.3} top={416} bottom={446} />
      <text x={284.3} y={428.5} textAnchor="middle" fontSize={7.5} fill="#222">p &lt; 2.2e-16</text>
      <Bracket x1={264.3} x2={284.3} top={431.7} bottom={446} />

      {/* F / G annotations */}
      <text x={414} y={372} textAnchor="middle" fontSize={9.5} fill="#222">Fraction of</text>
      <text x={414} y={385} textAnchor="middle" fontSize={9.5} fill="#222">samples</text>
      <text x={567} y={371} textAnchor="middle" fontSize={9.5} fill="#222">Fraction of</text>
      <text x={567} y={384} textAnchor="middle" fontSize={9.5} fill="#222">samples</text>
      <text x={481} y={348} fontSize={9} fill="#222">
        wt <tspan fontStyle="italic">TP53</tspan>
      </text>
      {hGroups.map((g, i) => {
        const y = 357 + 15 * i;
        return (
          <g key={g}>
            <rect x={472} y={y - 4} width={12} height={8} fill={hCol[i]} stroke="#555" strokeWidth={0.7} />
            <line x1={472} x2={484} y1={y} y2={y} stroke="#555" strokeWidth={0.7} />
            <text x={491} y={y} dy="0.35em" fontSize={7.5} fill="#222">
              {g}
            </text>
          </g>
        );
      })}
      <text x={496} y={403.5} fontFamily={SERIF} fontSize={7.5} fill="#222">N</text>
      <text x={513} y={403.5} fontFamily={SERIF} fontSize={7.5} fill="#222">(%)</text>
      <path d="M490,406H474V700H490" fill="none" stroke="#222" strokeWidth={0.9} />
      <text x={470} y={556} transform="rotate(-90 470 556)" textAnchor="middle" fontSize={9.5} fill="#222">
        Samples with <tspan fontStyle="italic">TP53</tspan> SNV
      </text>

      {/* H annotations */}
      {rotText(619, 429, "log2(scaled counts +1)", 8.5, -90, "middle", "#222")}
      {rotText(619, 615, "log2(scaled counts + 1)", 8.5, -90, "middle", "#222")}
      <text x={671.7} y={342} textAnchor="middle" fontSize={7.5} fill="#222">p=0.009</text>
      <Bracket x1={659.3} x2={690.7} top={346.7} bottom={353} />
      <text x={706.5} y={361} textAnchor="middle" fontSize={7.5} fill="#222">p=0.012</text>
      <Bracket x1={690.7} x2={722.3} top={363.3} bottom={370} />
      <text x={690.7} y={514} textAnchor="middle" fontSize={9.5} fontStyle="italic" fill="#222">MDM2</text>
      <text x={675} y={536} textAnchor="middle" fontSize={7.5} fill="#222">n.s.</text>
      <Bracket x1={659.3} x2={690.7} top={538.3} bottom={546} />
      <text x={711} y={549.5} textAnchor="middle" fontSize={7.5} fill="#222">p=0.0002</text>
      <Bracket x1={690.7} x2={722.3} top={551.7} bottom={559} />
      <text x={691} y={707} textAnchor="middle" fontSize={9.5} fontStyle="italic" fill="#222">CDKN1A</text>
    </svg>
  );
}

export default function App() {
  return (
    <div style={{ position: "absolute", left: 0, top: 0, width: W, height: H, background: "#fff", fontFamily: SANS, overflow: "hidden" }}>
      <Patterns />
      <PanelA />
      <PanelB />
      <PanelC />
      <PanelD />
      <PanelE />
      <PanelF />
      <PanelG />
      <BoxPanel
        plot={{ x0: 640, x1: 740, y0: 361.7, y1: 495 }}
        yDomain={[9.34, 13.17]}
        yTicks={[10, 11, 12, 13]}
        levels={mdmLevels}
        clouds={[mdmWtWt, mdmMutWt, mdmMutMut]}
        q1={mdmQ1}
        med={mdmMed}
        q3={mdmQ3}
      />
      <BoxPanel
        plot={{ x0: 639.5, x1: 740, y0: 546, y1: 688 }}
        yDomain={[7.95, 15.7]}
        yTicks={[8, 10, 12, 14]}
        levels={cdkLevels}
        clouds={[cdkWtWt, cdkMutWt, cdkMutMut]}
        q1={cdkQ1}
        med={cdkMed}
        q3={cdkQ3}
      />
      <Overlay />
    </div>
  );
}
